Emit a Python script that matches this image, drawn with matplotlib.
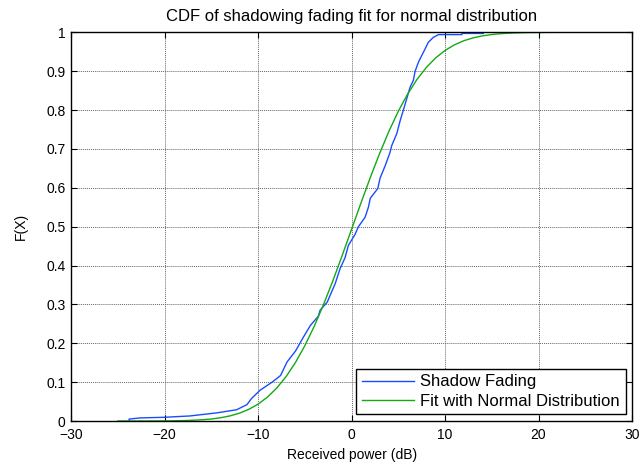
import matplotlib
matplotlib.use("Agg")
import matplotlib.pyplot as plt

plt.rcParams['font.family'] = ['Liberation Sans', 'DejaVu Sans']

shadow_x = [-23.8, -23.8, -22.6, -20.1, -17.3, -14.4, -12.3, -11.2, -10.7, -9.8,
            -8.5, -7.6, -6.9, -6.0, -5.15, -4.4, -3.55, -3.37, -2.6, -2.3,
            -1.76, -1.23, -0.7, -0.34, 0.37, 0.73, 1.44, 1.8, 2.0, 2.8,
            3.05, 3.6, 4.1, 4.3, 4.83, 5.2, 5.54, 5.9, 6.26, 6.6,
            6.8, 7.15, 7.5, 7.86, 8.2, 8.75, 9.3, 11.8, 11.8, 14.1, 14.1]
shadow_F = [0.0, 0.005, 0.008, 0.0095, 0.013, 0.021, 0.029, 0.042, 0.058, 0.079,
            0.100, 0.117, 0.152, 0.180, 0.216, 0.246, 0.270, 0.285, 0.306, 0.323,
            0.353, 0.392, 0.420, 0.452, 0.480, 0.500, 0.524, 0.550, 0.573, 0.598,
            0.625, 0.657, 0.690, 0.709, 0.739, 0.773, 0.800, 0.829, 0.859, 0.876,
            0.900, 0.923, 0.940, 0.957, 0.974, 0.987, 0.994, 0.994, 0.997, 0.997, 1.0]

# fitted normal CDF, sampled every 1 dB
fit_x = list(range(-25, 31))
fit_F = [0.0, 0.00002, 0.00005, 0.0001, 0.0002, 0.0003, 0.0006, 0.0011, 0.0019, 0.0032,
         0.0052, 0.0084, 0.0132, 0.0201, 0.0300, 0.0434, 0.0615, 0.0849, 0.1145, 0.1506,
         0.1938, 0.2435, 0.2998, 0.3609, 0.4262, 0.4933, 0.5606, 0.6263, 0.6883, 0.7457,
         0.7969, 0.8413, 0.8788, 0.9097, 0.9342, 0.9533, 0.9676, 0.9782, 0.9856, 0.9908,
         0.9942, 0.9965, 0.9979, 0.9988, 0.9993, 0.9996, 0.9998, 0.9999, 1.0, 1.0,
         1.0, 1.0, 1.0, 1.0, 1.0, 1.0]

xticks = [-30, -20, -10, 0, 10, 20, 30]
yticks = [0, 0.1, 0.2, 0.3, 0.4, 0.5, 0.6, 0.7, 0.8, 0.9, 1]
ytick_labels = ['0', '0.1', '0.2', '0.3', '0.4', '0.5', '0.6', '0.7', '0.8', '0.9', '1']

fig = plt.figure(figsize=(6.41, 4.65), dpi=100)
ax = fig.add_axes([0.111, 0.0946, 0.875, 0.836])

ax.plot(shadow_x, shadow_F, color='#1a4cff', lw=1.0, label='Shadow Fading')
ax.plot(fit_x, fit_F, color='#14a814', lw=1.0, label='Fit with Normal Distribution')

ax.set_xlim(-30, 30)
ax.set_ylim(0, 1)
ax.set_xticks(xticks)
ax.set_yticks(yticks)
ax.set_yticklabels(ytick_labels)
ax.tick_params(direction='in', length=4, width=0.8, labelsize=10,
               top=True, right=True)
ax.tick_params(axis='x', pad=5)
ax.tick_params(axis='y', pad=4)
for s in ax.spines.values():
    s.set_linewidth(1.0)
    s.set_color('black')

ax.grid(True, color='0.4', linestyle=(0, (1, 1)), lw=0.7)
ax.set_axisbelow(True)

ax.set_title('CDF of shadowing fading fit for normal distribution', fontsize=12, pad=8)
ax.set_xlabel('Received power (dB)', fontsize=10, labelpad=4)
ax.set_ylabel('F(X)', fontsize=10, labelpad=13)

leg = ax.legend(loc='lower right', bbox_to_anchor=(0.989, 0.017), fontsize=12,
                fancybox=False, framealpha=1, edgecolor='black',
                handlelength=3.1, handletextpad=0.4, borderpad=0.35,
                labelspacing=0.25, borderaxespad=0)
leg.get_frame().set_linewidth(1.0)

fig.savefig('out.png', dpi=100)
